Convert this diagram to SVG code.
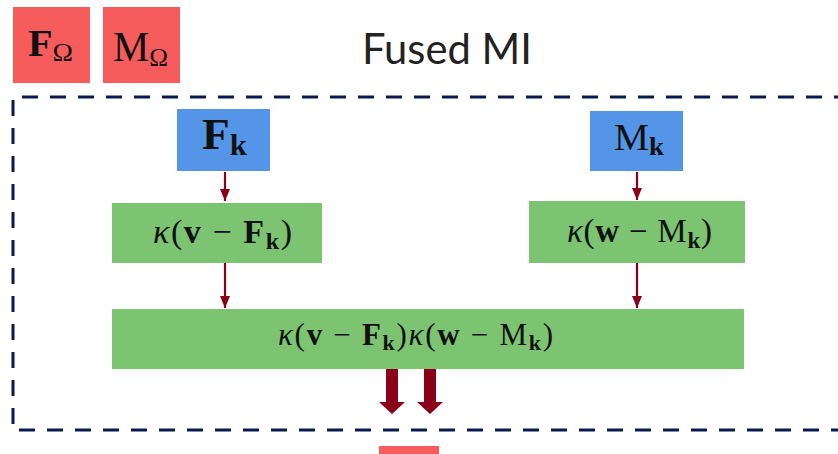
<svg xmlns="http://www.w3.org/2000/svg" width="838" height="454" viewBox="0 0 838 454">
<defs>
<style>
.red{fill:#F75C5C}
.blue{fill:#5495E8}
.green{fill:#7CC472}
.m{font-family:"Liberation Serif","DejaVu Serif",serif;fill:#111}
.b{font-weight:bold}
.i{font-style:italic}
.title{font-family:Lato,"Open Sans",sans-serif;font-size:43px;fill:#222}
.con line{stroke:#8A0018;stroke-width:2.2}
</style>
<marker id="ah" viewBox="0 0 12 10" refX="12" refY="5" markerWidth="12" markerHeight="10" markerUnits="userSpaceOnUse" orient="auto">
<path d="M0,0 L12,5 L0,10 Z" fill="#8A0018"/>
</marker>
</defs>
<rect width="838" height="454" fill="#fff"/>
<g id="F_omega"><rect class="red" x="13" y="7" width="77" height="76"/>
<text class="m" x="28" y="56" font-size="38" textLength="45" lengthAdjust="spacingAndGlyphs"><tspan class="b">F</tspan><tspan font-size="26" dy="5">Ω</tspan></text></g>
<g id="M_omega"><rect class="red" x="103" y="7" width="77" height="76"/>
<text class="m" x="113" y="61" font-size="42" textLength="55" lengthAdjust="spacingAndGlyphs"><tspan>M</tspan><tspan font-size="26" dy="5">Ω</tspan></text></g>
<text id="title" class="title" x="362" y="64" textLength="170" lengthAdjust="spacingAndGlyphs">Fused MI</text>
<path id="frame" d="M850,97 H13 V430 H850" fill="none" stroke="#0A1A4A" stroke-width="3" stroke-dasharray="16,12"/>
<g id="Fk"><rect class="blue" x="177" y="109" width="93" height="62"/>
<text class="m" x="202" y="149" font-size="44" textLength="45" lengthAdjust="spacingAndGlyphs"><tspan class="b">F</tspan><tspan class="b" font-size="30" dy="6">k</tspan></text></g>
<g id="Mk"><rect class="blue" x="590" y="111" width="93" height="60"/>
<text class="m" x="614" y="150" font-size="38" textLength="50" lengthAdjust="spacingAndGlyphs"><tspan>M</tspan><tspan class="b" font-size="26" dy="5">k</tspan></text></g>
<g id="kvF"><rect class="green" x="112" y="203" width="210" height="60"/>
<text class="m" x="153" y="243" font-size="34" textLength="139" lengthAdjust="spacing"><tspan class="i">κ</tspan>(<tspan class="b">v</tspan> − <tspan class="b">F</tspan><tspan class="b" font-size="24" dy="6">k</tspan><tspan dy="-6">)</tspan></text></g>
<g id="kwM"><rect class="green" x="529" y="201" width="216" height="62"/>
<text class="m" x="567" y="242" font-size="33" textLength="145" lengthAdjust="spacing"><tspan class="i">κ</tspan>(<tspan class="b">w</tspan> − M<tspan class="b" font-size="23" dy="6">k</tspan><tspan dy="-6">)</tspan></text></g>
<g id="product"><rect class="green" x="112" y="309" width="632" height="60"/>
<text class="m" x="278" y="345" font-size="31" textLength="275" lengthAdjust="spacing"><tspan class="i">κ</tspan>(<tspan class="b">v</tspan> − <tspan class="b">F</tspan><tspan class="b" font-size="22" dy="5">k</tspan><tspan dy="-5">)</tspan><tspan class="i">κ</tspan>(<tspan class="b">w</tspan> − M<tspan class="b" font-size="22" dy="5">k</tspan><tspan dy="-5">)</tspan></text></g>
<g id="output"><rect class="red" x="379" y="446" width="60" height="10"/></g>
<g id="connectors" class="con">
<line x1="225" y1="172" x2="225" y2="201" marker-end="url(#ah)"/>
<line x1="637" y1="172" x2="637" y2="200" marker-end="url(#ah)"/>
<line x1="225" y1="263" x2="225" y2="308" marker-end="url(#ah)"/>
<line x1="637" y1="263" x2="637" y2="308" marker-end="url(#ah)"/>
<path d="M386,369 H398 V402 H405 L392,414 L379,402 H386 Z" fill="#8A0018"/>
<path d="M424,369 H436 V402 H443 L430,414 L417,402 H424 Z" fill="#8A0018"/>
</g>
</svg>
